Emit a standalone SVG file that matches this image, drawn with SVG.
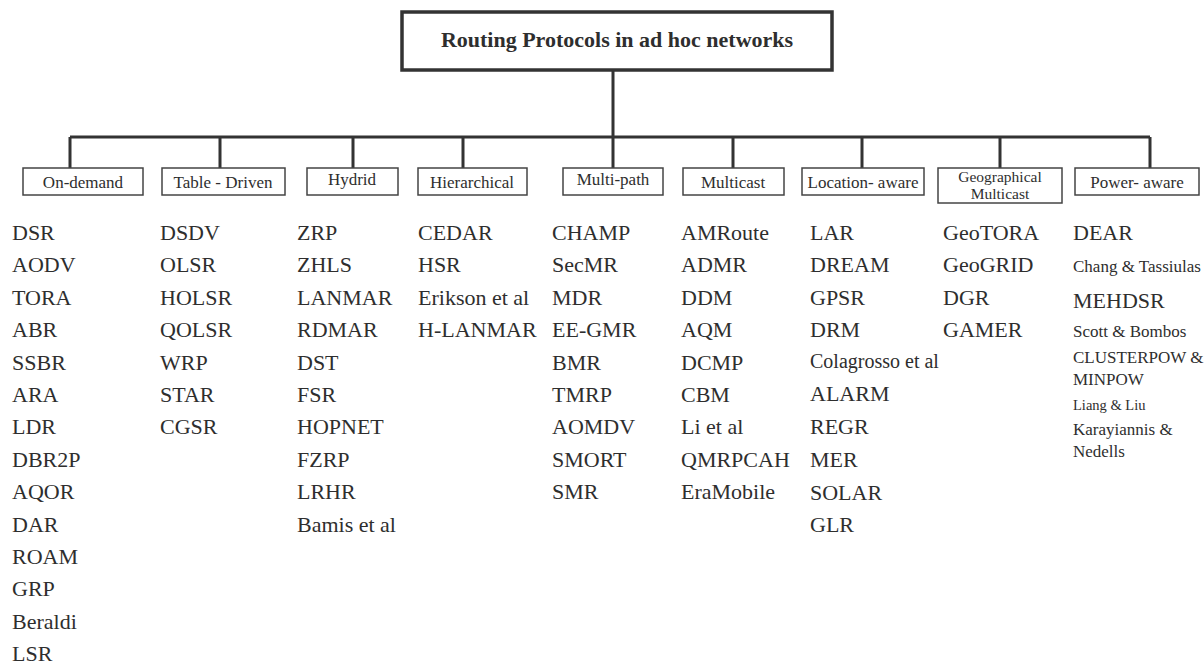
<svg xmlns="http://www.w3.org/2000/svg" width="1204" height="669" viewBox="0 0 1204 669">
<style>
text{font-family:"Liberation Serif","Times New Roman",serif;fill:#2e2e2e}
.title{font-size:22px;font-weight:bold;text-anchor:middle}
.cat{font-size:17px;text-anchor:middle}
.cat2{font-size:15.5px;text-anchor:middle}
.it{font-size:22px}
.sm{font-size:17px}
.xs{font-size:14.5px}
.md{font-size:20px}
.cbox{fill:#fff;stroke:#444;stroke-width:1.5}
.tbox{fill:#fff;stroke:#333;stroke-width:3.5}
.conn{stroke:#333;stroke-width:3;fill:none}
</style>
<rect width="1204" height="669" fill="#fff"/>
<g id="connectors">
<path class="conn" d="M613 70V137M70 137H1150M70 137V168M220 137V168M353 137V168M463 137V168M613 137V168M733 137V168M862 137V168M1000 137V168M1150 137V168"/>
</g>
<g id="root"><rect class="tbox" x="402" y="12" width="430" height="58"/><text class="title" x="617" y="47">Routing Protocols in ad hoc networks</text></g>
<g id="cat-ondemand"><rect class="cbox" x="23" y="168" width="120" height="27"/><text class="cat" x="83" y="188">On-demand</text></g>
<g id="cat-table"><rect class="cbox" x="162" y="168" width="123" height="27"/><text class="cat" x="223" y="188">Table - Driven</text></g>
<g id="cat-hybrid"><rect class="cbox" x="307" y="168" width="91" height="27"/><text class="cat" x="352" y="185">Hydrid</text></g>
<g id="cat-hier"><rect class="cbox" x="418" y="168" width="109" height="27"/><text class="cat" x="472" y="188">Hierarchical</text></g>
<g id="cat-multipath"><rect class="cbox" x="563" y="168" width="100" height="27"/><text class="cat" x="613" y="185">Multi-path</text></g>
<g id="cat-multicast"><rect class="cbox" x="683" y="168" width="101" height="27"/><text class="cat" x="733" y="188">Multicast</text></g>
<g id="cat-location"><rect class="cbox" x="802" y="168" width="122" height="27"/><text class="cat" x="863" y="188">Location- aware</text></g>
<g id="cat-geo"><rect class="cbox" x="938" y="168" width="124" height="35"/><text class="cat2" x="1000" y="182">Geographical</text><text class="cat2" x="1000" y="199">Multicast</text></g>
<g id="cat-power"><rect class="cbox" x="1075" y="168" width="124" height="27"/><text class="cat" x="1137" y="188">Power- aware</text></g>
<g id="list-ondemand">
<text class="it" x="12" y="240">DSR</text><text class="it" x="12" y="272.4">AODV</text><text class="it" x="12" y="304.8">TORA</text><text class="it" x="12" y="337.2">ABR</text><text class="it" x="12" y="369.6">SSBR</text><text class="it" x="12" y="402">ARA</text><text class="it" x="12" y="434.4">LDR</text><text class="it" x="12" y="466.8">DBR2P</text><text class="it" x="12" y="499.2">AQOR</text><text class="it" x="12" y="531.6">DAR</text><text class="it" x="12" y="564">ROAM</text><text class="it" x="12" y="596.4">GRP</text><text class="it" x="12" y="628.8">Beraldi</text><text class="it" x="12" y="661.2">LSR</text>
</g>
<g id="list-table">
<text class="it" x="160" y="240">DSDV</text><text class="it" x="160" y="272.4">OLSR</text><text class="it" x="160" y="304.8">HOLSR</text><text class="it" x="160" y="337.2">QOLSR</text><text class="it" x="160" y="369.6">WRP</text><text class="it" x="160" y="402">STAR</text><text class="it" x="160" y="434.4">CGSR</text>
</g>
<g id="list-hybrid">
<text class="it" x="297" y="240">ZRP</text><text class="it" x="297" y="272.4">ZHLS</text><text class="it" x="297" y="304.8">LANMAR</text><text class="it" x="297" y="337.2">RDMAR</text><text class="it" x="297" y="369.6">DST</text><text class="it" x="297" y="402">FSR</text><text class="it" x="297" y="434.4">HOPNET</text><text class="it" x="297" y="466.8">FZRP</text><text class="it" x="297" y="499.2">LRHR</text><text class="it" x="297" y="531.6">Bamis et al</text>
</g>
<g id="list-hier">
<text class="it" x="418" y="240">CEDAR</text><text class="it" x="418" y="272.4">HSR</text><text class="it" x="418" y="304.8">Erikson et al</text><text class="it" x="418" y="337.2">H-LANMAR</text>
</g>
<g id="list-multipath">
<text class="it" x="552" y="240">CHAMP</text><text class="it" x="552" y="272.4">SecMR</text><text class="it" x="552" y="304.8">MDR</text><text class="it" x="552" y="337.2">EE-GMR</text><text class="it" x="552" y="369.6">BMR</text><text class="it" x="552" y="402">TMRP</text><text class="it" x="552" y="434.4">AOMDV</text><text class="it" x="552" y="466.8">SMORT</text><text class="it" x="552" y="499.2">SMR</text>
</g>
<g id="list-multicast">
<text class="it" x="681" y="240">AMRoute</text><text class="it" x="681" y="272.4">ADMR</text><text class="it" x="681" y="304.8">DDM</text><text class="it" x="681" y="337.2">AQM</text><text class="it" x="681" y="369.6">DCMP</text><text class="it" x="681" y="402">CBM</text><text class="it" x="681" y="434.4">Li et al</text><text class="it" x="681" y="466.8">QMRPCAH</text><text class="it" x="681" y="499.2">EraMobile</text>
</g>
<g id="list-location">
<text class="it" x="810" y="240">LAR</text><text class="it" x="810" y="272.4">DREAM</text><text class="it" x="810" y="304.8">GPSR</text><text class="it" x="810" y="337.2">DRM</text><text class="md" x="810" y="368">Colagrosso et al</text><text class="it" x="810" y="401">ALARM</text><text class="it" x="810" y="434">REGR</text><text class="it" x="810" y="467">MER</text><text class="it" x="810" y="499.5">SOLAR</text><text class="it" x="810" y="531.6">GLR</text>
</g>
<g id="list-geo">
<text class="it" x="943" y="240">GeoTORA</text><text class="it" x="943" y="272.4">GeoGRID</text><text class="it" x="943" y="304.8">DGR</text><text class="it" x="943" y="337.2">GAMER</text>
</g>
<g id="list-power">
<text class="it" x="1073" y="240">DEAR</text><text class="sm" x="1073" y="272">Chang &amp; Tassiulas</text><text class="it" x="1073" y="308">MEHDSR</text><text class="sm" x="1073" y="337">Scott &amp; Bombos</text><text class="sm" x="1073" y="363">CLUSTERPOW &amp;</text><text class="sm" x="1073" y="385">MINPOW</text><text class="xs" x="1073" y="410">Liang &amp; Liu</text><text class="sm" x="1073" y="435">Karayiannis &amp;</text><text class="sm" x="1073" y="457">Nedells</text>
</g>
</svg>
